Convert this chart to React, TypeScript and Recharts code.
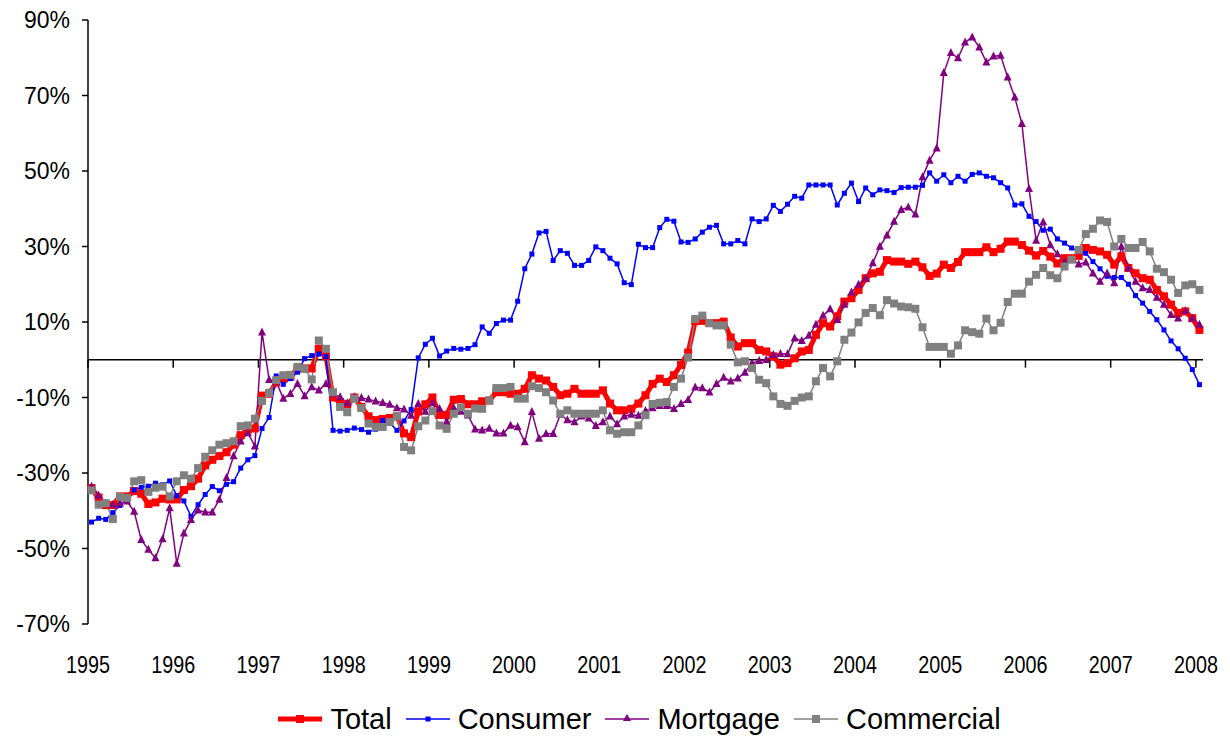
import { LineChart, Line, XAxis, YAxis, ReferenceLine, Legend } from 'recharts'

// monthly growth rates, Jan 1995 .. Jan 2008 (one row per year)
const years = [1995, 1996, 1997, 1998, 1999, 2000, 2001, 2002, 2003, 2004, 2005, 2006, 2007, 2008]

const total = [
  -34, -36.5, -38.5, -38.5, -36.2, -36.2, -34.8, -35.5, -38.2, -37.8, -36.8, -37,
  -37, -34.5, -33.5, -31.5, -28, -26.5, -25.5, -24.5, -22.5, -20, -18.5, -18.2,
  -9.5, -9, -6, -5, -4.5, -2.3, -2.3, -2.3, 2.9, 1, -10, -11.2,
  -11.8, -10, -12.5, -15, -16, -15.7, -15.4, -15, -19.5, -20.5, -13.7, -11.8,
  -10, -14.6, -14.6, -10.6, -10.4, -11.8, -11.8, -11, -10.8, -8.6, -8.6, -9,
  -9, -7.7, -4.1, -5, -5.5, -7.2, -9.4, -9, -7.7, -9, -9, -9,
  -8.1, -11.6, -13.4, -13.4, -13, -11.6, -9.4, -6.4, -5, -5.9, -4.1, -1.4,
  1.9, 10.2, 10.3, 9.7, 9.7, 10.1, 5.9, 3.5, 4.4, 4.4, 2.6, 2.2,
  0.9, -1.3, -0.9, 0.4, 2.2, 2.6, 6.6, 9.7, 8.8, 11.5, 15.4, 16.3,
  18.5, 21.6, 22.9, 23.3, 26.4, 26, 26, 25.4, 26, 24.5, 22.2, 22.8,
  25.2, 24.3, 25.9, 28.5, 28.5, 28.5, 29.8, 28.5, 29.4, 31.3, 31.3, 30.4,
  28.9, 27.6, 28.8, 27.3, 25.5, 26.9, 26.9, 27.5, 29.6, 29.1, 28.7, 27.8,
  25.2, 27.4, 24.3, 22.9, 21.6, 21.2, 18.5, 16.8, 14.6, 12.4, 12.8, 11,
  7.9,
]

const consumer = [
  -43, -42, -42.3, -40.5, -38.6, -36.5, -34.5, -33.8, -33.5, -32.7, -33.1, -32.1,
  -36, -37.4, -41.5, -38.4, -35.7, -33.6, -34.7, -33, -32.3, -28.7, -26.5, -25.4,
  -18.2, -15.3, -4.3, -6.5, -5, -3.3, 0.3, 1.1, 1.5, 0.8, -18.7, -18.9,
  -18.7, -18.1, -18.5, -19.2, -18.4, -16.1, -16.8, -18.7, -16.2, -13.2, 0.5, 4.1,
  5.7, 1.0, 2.3, 3.0, 2.8, 3.0, 4.0, 8.7, 7.0, 9.6, 10.5, 10.5,
  15.5, 24.1, 28.0, 33.6, 34.0, 26.3, 28.9, 28.2, 25.0, 25.0, 26.3, 29.9,
  28.9, 26.9, 25.4, 20.4, 19.9, 30.6, 29.7, 29.7, 35.0, 37.2, 36.7, 31.2,
  31.1, 32.0, 33.8, 35.1, 35.6, 30.7, 30.7, 31.6, 30.7, 37.3, 36.6, 37.3,
  40.9, 39.3, 41.2, 43.3, 42.8, 46.3, 46.3, 46.3, 46.3, 41.0, 44.1, 46.8,
  41.9, 45.5, 43.7, 45.0, 44.8, 44.3, 45.6, 45.7, 45.7, 46.2, 49.5, 47.3,
  49.0, 46.9, 48.6, 47.3, 49.1, 49.5, 48.6, 48.2, 46.9, 45.5, 41.0, 41.3,
  38.0, 36.6, 34.3, 34.6, 32.0, 30.9, 29.6, 28.7, 28.2, 26.0, 24.1, 22.1,
  21.8, 21.8, 20.0, 17.0, 15.0, 12.8, 10.6, 7.9, 5.0, 2.9, 0.4, -2.6,
  -6.6,
]

const mortgage = [
  -33.6, -36, -38, -38.4, -38, -37.5, -40.2, -47.7, -50.3, -52.5, -47.5, -39.3,
  -54, -46, -42.4, -39.9, -40.4, -40.4, -37, -31.3, -25.5, -21.6, -19.4, -22.9,
  7.3, -5.3, -5.8, -10.3, -9, -6.4, -9.6, -7.2, -8.1, -6.4, -9, -9.9,
  -11.5, -9.9, -10.1, -10.5, -11, -11.4, -11.9, -12.8, -13.1, -14.8, -11.7, -13.7,
  -11.5, -13, -16.4, -12.8, -13.7, -14.7, -18.4, -18.7, -18.2, -19.5, -19.5, -17.4,
  -17.8, -21.8, -13.8, -20.9, -19.6, -19.6, -14.5, -16, -16.5, -15, -15.5, -17.5,
  -16.5, -15, -17, -15, -14.5, -14.8, -13.5, -12.8, -12.2, -12.2, -13, -11.7,
  -10.6, -7.3, -7.5, -8.6, -6.4, -4.7, -5.7, -4.9, -3.4, -0.9, -0.3, 0,
  1.3, 1.6, 1.5, 5.7, 5.0, 6.4, 9.3, 11.7, 13.4, 10.6, 14.6, 17.9,
  19.9, 21.6, 25.6, 30.0, 33.0, 36.6, 39.7, 40.4, 38.5, 48.4, 52.8, 56.0,
  76.0, 81.3, 79.9, 84.1, 85.4, 82.8, 78.8, 80.4, 80.6, 74.8, 69.5, 62.5,
  45.3, 31.6, 36.5, 30.4, 28.0, 26.0, 26.7, 25.3, 25.8, 22.9, 20.7, 22.9,
  20.3, 30.0, 24.3, 20.7, 19.0, 18.5, 16.5, 14.6, 11.9, 11.0, 13.0, 11.0,
  9.3,
]

const commercial = [
  -34.6, -38.4, -38, -42.2, -36.3, -36.6, -32.2, -31.9, -35, -33.9, -33.6, -36.2,
  -32.2, -30.6, -31.5, -28.7, -25.7, -24, -22.5, -22.1, -21.6, -17.6, -17.4, -15.6,
  -10.9, -8.8, -5.4, -4.1, -4.0, -1.9, -2.4, -5.2, 5.1, 2.9, -8.6, -12.5,
  -13.9, -10.3, -12.8, -16.9, -17.8, -17.8, -16.5, -15, -23.1, -24, -17.6, -16.1,
  -13.6, -17.4, -18.3, -14.3, -12.6, -14.3, -12.9, -13, -10.8, -7.5, -7.5, -7.2,
  -10.3, -10.3, -7, -7.5, -8.6, -10.8, -14.3, -13.4, -14.3, -14.3, -14.3, -14.3,
  -13.4, -18.7, -19.6, -19.2, -19.2, -17.4, -14.7, -11.7, -11.4, -11.2, -7.2, -5,
  0.6, 10.8, 11.7, 9.7, 9.1, 9.1, 4.0, -0.7, -0.4, -2.2, -5.3, -6.2,
  -9.7, -11.7, -12.2, -10.9, -10.0, -9.7, -5.7, -2.2, -4.4, -0.4, 5.3, 7.2,
  9.9, 12.4, 13.7, 11.8, 15.8, 14.9, 14.1, 13.9, 13.5, 8.6, 3.4, 3.4,
  3.4, 1.6, 3.8, 7.8, 7.3, 6.9, 10.9, 7.8, 9.8, 15.3, 17.5, 17.5,
  20.7, 22.5, 24.3, 22.4, 21.6, 24.7, 26.5, 29.1, 33.3, 34.7, 36.9, 36.5,
  30.0, 32.0, 29.6, 29.6, 31.2, 28.7, 24.1, 23.2, 21.2, 17.7, 19.7, 20.0,
  18.5,
]

const yTicks = [-70, -50, -30, -10, 10, 30, 50, 70, 90]

const data = total.map((v, i) => ({
  m: i,
  total: v,
  consumer: consumer[i],
  mortgage: mortgage[i],
  commercial: commercial[i],
}))

// year boundaries sit half a month before January
const yearTicks = years.map((_, k) => k * 12 - 0.5)

const series = [
  { key: 'total', name: 'Total', color: '#ff0000', width: 5, shape: 'square', size: 8 },
  { key: 'consumer', name: 'Consumer', color: '#0000ff', width: 1.5, shape: 'square', size: 5 },
  { key: 'mortgage', name: 'Mortgage', color: '#800080', width: 1.5, shape: 'triangle', size: 8 },
  { key: 'commercial', name: 'Commercial', color: '#808080', width: 1.5, shape: 'square', size: 8 },
]

const marker = (shape: string, size: number, color: string) => (props: any) => {
  const { cx, cy, index } = props
  if (cx == null || cy == null) return <g key={index} />
  if (shape === 'triangle') {
    const pts = `${cx},${cy - size * 0.6} ${cx - size / 2},${cy + size * 0.4} ${cx + size / 2},${cy + size * 0.4}`
    return <polygon key={index} points={pts} fill={color} />
  }
  return <rect key={index} x={cx - size / 2} y={cy - size / 2} width={size} height={size} fill={color} />
}

const YearTick = (props: any) => {
  const { x, y, payload } = props
  const label = 1995 + Math.round((payload.value + 0.5) / 12)
  return (
    <text
      x={x}
      y={y + 41}
      dy="0.36em"
      textAnchor="middle"
      fontSize={23}
      textLength={44}
      lengthAdjust="spacingAndGlyphs"
      fill="#000"
    >
      {label}
    </text>
  )
}

const renderLegend = () => (
  <div style={{ display: 'flex', justifyContent: 'center', alignItems: 'center', gap: 12, height: 36, paddingLeft: 74 }}>
    {series.map((s) => (
      <div key={s.key} style={{ display: 'flex', alignItems: 'center' }}>
        <svg width={48} height={20}>
          <line x1={2} y1={10} x2={46} y2={10} stroke={s.color} strokeWidth={s.width} />
          {s.shape === 'triangle' ? (
            <polygon points={`24,5 20,12 28,12`} fill={s.color} />
          ) : (
            <rect x={24 - s.size / 2} y={10 - s.size / 2} width={s.size} height={s.size} fill={s.color} />
          )}
        </svg>
        <span style={{ fontSize: 29, lineHeight: '36px', color: '#000', marginLeft: 6 }}>{s.name}</span>
      </div>
    ))}
  </div>
)

export default function App() {
  return (
    <div style={{ fontFamily: '"Liberation Sans", Arial, sans-serif', background: '#fff' }}>
      <style>{`body { margin: 0; }`}</style>
      <LineChart width={1230} height={737} data={data} margin={{ top: 20, right: 27, left: 0, bottom: 0 }}>
        <XAxis
          dataKey="m"
          type="number"
          domain={[-0.5, 156.5]}
          ticks={yearTicks}
          interval={0}
          axisLine={false}
          tickLine={false}
          tickSize={0}
          tickMargin={0}
          height={77}
          tick={<YearTick />}
        />
        <YAxis
          type="number"
          domain={[-70, 90]}
          ticks={yTicks}
          interval={0}
          width={88}
          stroke="#000"
          strokeWidth={1.5}
          tickSize={6}
          tickMargin={12}
          tick={{ fill: '#000', fontSize: 23 }}
          tickFormatter={(v: number) => `${v}%`}
        />
        <ReferenceLine y={0} stroke="#000" strokeWidth={1.5} />
        {yearTicks.map((t) => (
          <ReferenceLine
            key={t}
            segment={[{ x: t, y: 0 }, { x: t, y: -2.1 }]}
            stroke="#000"
            strokeWidth={1.5}
            ifOverflow="visible"
          />
        ))}
        {series.map((s) => (
          <Line
            key={s.key}
            type="linear"
            dataKey={s.key}
            name={s.name}
            stroke={s.color}
            strokeWidth={s.width}
            dot={marker(s.shape, s.size, s.color)}
            activeDot={false}
            isAnimationActive={false}
          />
        ))}
        <Legend verticalAlign="bottom" height={36} content={renderLegend} />
      </LineChart>
    </div>
  )
}
